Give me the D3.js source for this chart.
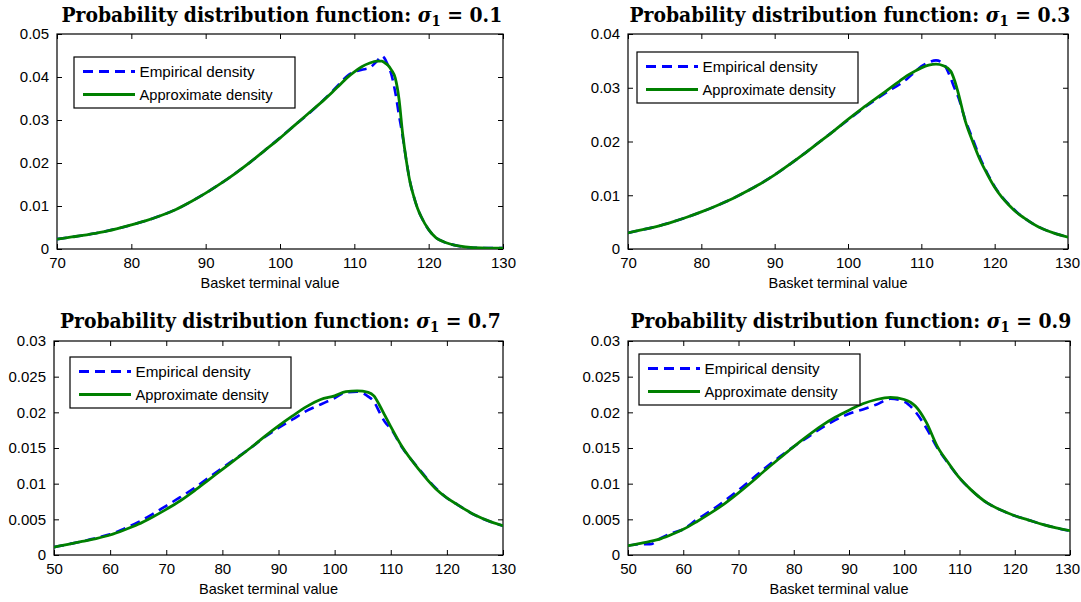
<!DOCTYPE html>
<html>
<head>
<meta charset="utf-8">
<script src="https://cdn.jsdelivr.net/npm/d3@7"></script>
<style>
  html, body { margin: 0; padding: 0; background: #fff; }
  svg { display: block; }
</style>
</head>
<body>
<script>
// ---------------- DATA ----------------
const sigmaLabels = ["0.1", "0.3", "0.7", "0.9"];
const seriesNames = ["Empirical density", "Approximate density"];
const xAxisTitle = "Basket terminal value";

// Panel 1 (sigma = 0.1)
const x1 = [70,72,74,76,78, 80,82,84,86,88, 90,92,94,96,98, 100,102,104,106,107, 108,109,110,111,112, 113,113.7,114,114.5,115, 115.5,116,116.5,117,117.5, 118,118.5,119,120,121, 122,123,124,126,128, 130];
const emp1 = [0.0023,0.0028,0.0033,0.0039,0.0047, 0.0056,0.0066,0.0078,0.0092,0.0110, 0.0130,0.0152,0.0176,0.0202,0.0230, 0.0259,0.0288,0.0317,0.0349,0.0366, 0.0384,0.0402,0.0412,0.0417,0.0421, 0.0436,0.0449,0.0445,0.0428,0.0405, 0.0365,0.0312,0.0262,0.0205,0.0156, 0.0122,0.0095,0.0075,0.0045,0.0026, 0.0017,0.0011,0.0007,0.0003,0.0002, 0.0002];
const app1 = [0.0023,0.0028,0.0033,0.0039,0.0047, 0.0056,0.0066,0.0078,0.0092,0.0110, 0.0130,0.0152,0.0176,0.0202,0.0230, 0.0258,0.0288,0.0318,0.0348,0.0364, 0.0381,0.0398,0.0412,0.0424,0.0432, 0.0437,0.0437,0.0434,0.0428,0.0416, 0.0398,0.0350,0.0268,0.0205,0.0155, 0.0122,0.0095,0.0075,0.0045,0.0026, 0.0017,0.0011,0.0007,0.0003,0.0002, 0.0002];

// Panel 2 (sigma = 0.3)
const x2 = [70,72,74,76,78, 80,82,84,86,88, 90,92,94,96,98, 100,102,104,106,107, 108,109,110,111,112, 113,114,114.5,115,116, 117,118,119,120,121, 122,123,124,126,128, 130];
const emp2 = [0.0030,0.0036,0.0042,0.0050,0.0059, 0.0069,0.0080,0.0092,0.0106,0.0121, 0.0138,0.0157,0.0177,0.0198,0.0219, 0.0240,0.0261,0.0280,0.0298,0.0306, 0.0316,0.0328,0.0340,0.0347,0.0351, 0.0345,0.0318,0.0300,0.0284,0.0240, 0.0205,0.0170,0.0141,0.0116,0.0097, 0.0082,0.0069,0.0058,0.0041,0.0030, 0.0022];
const app2 = [0.0030,0.0036,0.0042,0.0050,0.0059, 0.0069,0.0080,0.0092,0.0106,0.0121, 0.0138,0.0157,0.0177,0.0198,0.0219, 0.0241,0.0262,0.0282,0.0302,0.0312, 0.0322,0.0330,0.0337,0.0342,0.0344, 0.0341,0.0331,0.0315,0.0292,0.0238, 0.0200,0.0166,0.0139,0.0115,0.0096, 0.0081,0.0068,0.0058,0.0041,0.0030, 0.0022];

// Panel 3 (sigma = 0.7)
const x3 = [50,52.5,55,57.5,60, 62.5,65,67.5,70,72.5, 75,77.5,80,82.5,85, 87.5,90,92.5,95,97.5, 100,102,104,106,107, 108,109,110,112,115, 118,120,122,125,128, 130];
const emp3 = [0.0011,0.0015,0.0019,0.0024,0.0029, 0.0037,0.0046,0.0057,0.0069,0.0081, 0.0094,0.0108,0.0122,0.0136,0.0150, 0.0165,0.0178,0.0190,0.0202,0.0211, 0.0220,0.0228,0.0229,0.0222,0.0215, 0.0200,0.0186,0.0177,0.0151,0.0121, 0.0094,0.0080,0.0070,0.0056,0.0046, 0.0041];
const app3 = [0.0011,0.0015,0.0019,0.0023,0.0028, 0.0035,0.0043,0.0053,0.0064,0.0076, 0.0090,0.0105,0.0120,0.0135,0.0150, 0.0166,0.0181,0.0195,0.0208,0.0218, 0.0223,0.0229,0.0230,0.0228,0.0223, 0.0210,0.0195,0.0180,0.0152,0.0120, 0.0093,0.0080,0.0070,0.0056,0.0046, 0.0041];

// Panel 4 (sigma = 0.9)
const x4 = [50,52,54,56,58, 60,62.5,65,67.5,70, 72.5,75,77.5,80,82.5, 85,87.5,90,92.5,95, 97.5,100,102,104,106, 108,110,112,115,117.5, 120,122.5,125,127.5,130];
const emp4 = [0.0013,0.0015,0.0015,0.0024,0.0031, 0.0036,0.0050,0.0062,0.0076,0.0091, 0.0107,0.0123,0.0138,0.0152,0.0165, 0.0178,0.0189,0.0198,0.0204,0.0211, 0.0219,0.0215,0.0201,0.0178,0.0150, 0.0128,0.0108,0.0092,0.0073,0.0063, 0.0055,0.0049,0.0043,0.0038,0.0034];
const app4 = [0.0013,0.0016,0.0019,0.0023,0.0029, 0.0036,0.0047,0.0059,0.0072,0.0087, 0.0103,0.0120,0.0136,0.0152,0.0167, 0.0181,0.0193,0.0203,0.0212,0.0218, 0.0221,0.0218,0.0209,0.0186,0.0152, 0.0129,0.0108,0.0092,0.0073,0.0063, 0.0055,0.0049,0.0043,0.0038,0.0034];

// Tick values and labels
const xTicksTop = [70,80,90,100,110,120,130];
const xTicksBottom = [50,60,70,80,90,100,110,120,130];
const yTicks1 = [0,0.01,0.02,0.03,0.04,0.05];
const yLabels1 = ["0","0.01","0.02","0.03","0.04","0.05"];
const yTicks2 = [0,0.01,0.02,0.03,0.04];
const yLabels2 = ["0","0.01","0.02","0.03","0.04"];
const yTicks34 = [0,0.005,0.01,0.015,0.02,0.025,0.03];
const yLabels34 = ["0","0.005","0.01","0.015","0.02","0.025","0.03"];

// ---------------- LAYOUT ----------------
const W = 1081, H = 602;
const panels = [
  {x: x1, emp: emp1, app: app1, xDom: [70,130], yDom: [0,0.05], xt: xTicksTop, yt: yTicks1, yl: yLabels1, sig: sigmaLabels[0],
   box: {l: 57, r: 503, t: 34, b: 249}, leg: {x: 74, y: 57}, titleY: 21.5},
  {x: x2, emp: emp2, app: app2, xDom: [70,130], yDom: [0,0.04], xt: xTicksTop, yt: yTicks2, yl: yLabels2, sig: sigmaLabels[1],
   box: {l: 628, r: 1068, t: 34, b: 249}, leg: {x: 637, y: 52}, titleY: 21.5},
  {x: x3, emp: emp3, app: app3, xDom: [50,130], yDom: [0,0.03], xt: xTicksBottom, yt: yTicks34, yl: yLabels34, sig: sigmaLabels[2],
   box: {l: 54, r: 503, t: 341, b: 555}, leg: {x: 70, y: 357}, titleY: 327.5},
  {x: x4, emp: emp4, app: app4, xDom: [50,130], yDom: [0,0.03], xt: xTicksBottom, yt: yTicks34, yl: yLabels34, sig: sigmaLabels[3],
   box: {l: 628, r: 1070, t: 341, b: 555}, leg: {x: 639, y: 354}, titleY: 327.5}
];

const BLUE = "#0000ff", GREEN = "#008000";
const SANS = "'Liberation Sans', Arial, Helvetica, sans-serif";
const SERIF = "'DejaVu Serif', 'Liberation Serif', serif";

const svg = d3.select("body").append("svg").attr("width", W).attr("height", H);

panels.forEach((p, idx) => {
  const b = p.box;
  const x = d3.scaleLinear().domain(p.xDom).range([b.l, b.r]);
  const y = d3.scaleLinear().domain(p.yDom).range([b.b, b.t]);
  const g = svg.append("g");

  const clipId = "clip" + idx;
  svg.append("clipPath").attr("id", clipId).append("rect")
    .attr("x", b.l).attr("y", b.t).attr("width", b.r - b.l).attr("height", b.b - b.t);

  const tickLen = 5;
  const axL = d3.axisLeft(y).tickValues(p.yt).tickFormat((d, i) => p.yl[i]).tickSizeInner(-tickLen).tickSizeOuter(0).tickPadding(8);
  const axR = d3.axisRight(y).tickValues(p.yt).tickFormat("").tickSizeInner(-tickLen).tickSizeOuter(0);
  const axB = d3.axisBottom(x).tickValues(p.xt).tickFormat(d3.format("d")).tickSizeInner(-tickLen).tickSizeOuter(0).tickPadding(8);
  const axT = d3.axisTop(x).tickValues(p.xt).tickFormat("").tickSizeInner(-tickLen).tickSizeOuter(0);

  const gl = g.append("g").attr("transform", `translate(${b.l},0)`).call(axL);
  const gr = g.append("g").attr("transform", `translate(${b.r},0)`).call(axR);
  const gb = g.append("g").attr("transform", `translate(0,${b.b})`).call(axB);
  const gt = g.append("g").attr("transform", `translate(0,${b.t})`).call(axT);
  [gl, gr, gb, gt].forEach(a => {
    a.select(".domain").remove();
    a.selectAll(".tick line").attr("stroke", "#000").attr("stroke-width", 1);
    a.selectAll("text").attr("font-family", SANS).attr("font-size", 15).attr("fill", "#000");
  });
  // keep the right-most x label inside the page
  gb.selectAll(".tick text").each(function () {
    const bb = this.getBBox();
    const tick = this.parentNode.getAttribute("transform");
    const tx = +tick.match(/translate\(([-\d.]+)/)[1];
    const right = tx + bb.x + bb.width;
    if (right > W - 1) d3.select(this).attr("x", (W - 1) - right);
  });
  g.append("rect").attr("x", b.l).attr("y", b.t).attr("width", b.r - b.l).attr("height", b.b - b.t)
    .attr("fill", "none").attr("stroke", "#000").attr("stroke-width", 1.2);

  g.append("text").attr("x", (b.l + b.r) / 2 - 10).attr("y", b.b + 39)
    .attr("text-anchor", "middle").attr("font-family", SANS).attr("font-size", 14.5)
    .attr("textLength", 139).attr("lengthAdjust", "spacingAndGlyphs")
    .text(xAxisTitle);

  const line = d3.line().x(d => x(d[0])).y(d => y(d[1])).curve(d3.curveMonotoneX);
  const empPts = p.x.map((v, i) => [v, p.emp[i]]);
  const appPts = p.x.map((v, i) => [v, p.app[i]]);
  const cg = g.append("g").attr("clip-path", `url(#${clipId})`);
  cg.append("path").attr("d", line(empPts)).attr("fill", "none").attr("stroke", BLUE)
    .attr("stroke-width", 2.6).attr("stroke-dasharray", "10,6").attr("stroke-linejoin", "round");
  cg.append("path").attr("d", line(appPts)).attr("fill", "none").attr("stroke", GREEN)
    .attr("stroke-width", 2.8).attr("stroke-linejoin", "round").attr("stroke-linecap", "round");

  const lg = g.append("g").attr("transform", `translate(${p.leg.x},${p.leg.y})`);
  lg.append("rect").attr("width", 221).attr("height", 51).attr("fill", "#fff").attr("stroke", "#000").attr("stroke-width", 1.2);
  const rows = [
    {name: seriesNames[0], color: BLUE, dash: "10,6", yy: 14.5, w: 115},
    {name: seriesNames[1], color: GREEN, dash: null, yy: 37.5, w: 133}
  ];
  rows.forEach(r => {
    lg.append("line").attr("x1", 9).attr("x2", 61).attr("y1", r.yy).attr("y2", r.yy)
      .attr("stroke", r.color).attr("stroke-width", 2.8).attr("stroke-dasharray", r.dash);
    lg.append("text").attr("x", 65.5).attr("y", r.yy).attr("dy", "0.35em")
      .attr("font-family", SANS).attr("font-size", 15)
      .attr("textLength", r.w).attr("lengthAdjust", "spacingAndGlyphs").text(r.name);
  });

  // title: DejaVu Serif bold, horizontally fitted to the reference width
  const tg = svg.append("g");
  const tt = tg.append("text").attr("x", 0).attr("y", 0)
    .attr("font-family", SERIF).attr("font-weight", "bold").attr("font-size", 20.5);
  tt.append("tspan").text("Probability distribution function: ");
  tt.append("tspan").attr("font-style", "italic").text("σ");
  tt.append("tspan").attr("font-size", 14.5).attr("dy", 4).text("1");
  tt.append("tspan").attr("dy", -4).text(" = " + p.sig);
  const wNow = tt.node().getComputedTextLength();
  const targetW = 441;
  const sx = targetW / wNow;
  const cx = (b.l + b.r) / 2 + 2;
  tg.attr("transform", `translate(${cx - targetW / 2},${p.titleY}) scale(${sx},1)`);
});
</script>
</body>
</html>
